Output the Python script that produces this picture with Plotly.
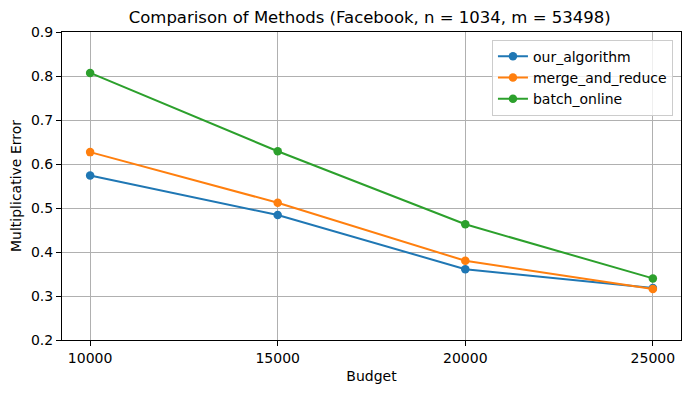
import plotly.graph_objects as go

# Data
budget = [10000, 15000, 20000, 25000]
our_algorithm = [0.574, 0.484, 0.361, 0.318]
merge_and_reduce = [0.627, 0.512, 0.380, 0.316]
batch_online = [0.807, 0.629, 0.463, 0.340]

series = [
    ("our_algorithm", our_algorithm, "#1f77b4"),
    ("merge_and_reduce", merge_and_reduce, "#ff7f0e"),
    ("batch_online", batch_online, "#2ca02c"),
]

fig = go.Figure()
for name, vals, color in series:
    fig.add_trace(go.Scatter(
        x=budget, y=vals, name=name, mode="lines+markers",
        line=dict(color=color, width=2),
        marker=dict(color=color, size=8.5),
    ))

axis_common = dict(
    showline=True, linecolor="black", linewidth=1, mirror=True,
    ticks="outside", ticklen=5, tickcolor="black",
    showgrid=True, gridcolor="#b0b0b0", gridwidth=1,
    zeroline=False, tickfont=dict(size=14, color="black"),
    automargin=False,
)

fig.update_xaxes(
    range=[9250, 25750], tickvals=budget, ticktext=[str(b) for b in budget],
    title=dict(text="Budget", font=dict(size=14, color="black"), standoff=6),
    **axis_common,
)
fig.update_yaxes(
    range=[0.2, 0.9], dtick=0.1, tickformat=".1f",
    title=dict(text="Multiplicative Error", font=dict(size=14, color="black"), standoff=6),
    **axis_common,
)

fig.update_layout(
    width=691, height=393,
    margin=dict(l=62, r=10, t=32, b=53, autoexpand=False),
    paper_bgcolor="white", plot_bgcolor="white",
    font=dict(family="DejaVu Sans", color="black"),
    title=dict(text="Comparison of Methods (Facebook, n = 1034, m = 53498)",
               x=0.535, xanchor="center", y=0.957, yanchor="middle",
               font=dict(size=16.5, color="black")),
    legend=dict(x=0.987, y=0.975, xanchor="right", yanchor="top",
                bgcolor="rgba(255,255,255,0.8)", bordercolor="#cccccc", borderwidth=1,
                font=dict(size=14, color="black"), tracegroupgap=0, itemwidth=30),
    showlegend=True,
)

# remove the default page margin so the figure sits at the window's top-left corner
fig.write_html("out.html", config={"displayModeBar": False},
               post_script="document.body.style.margin='0';")
